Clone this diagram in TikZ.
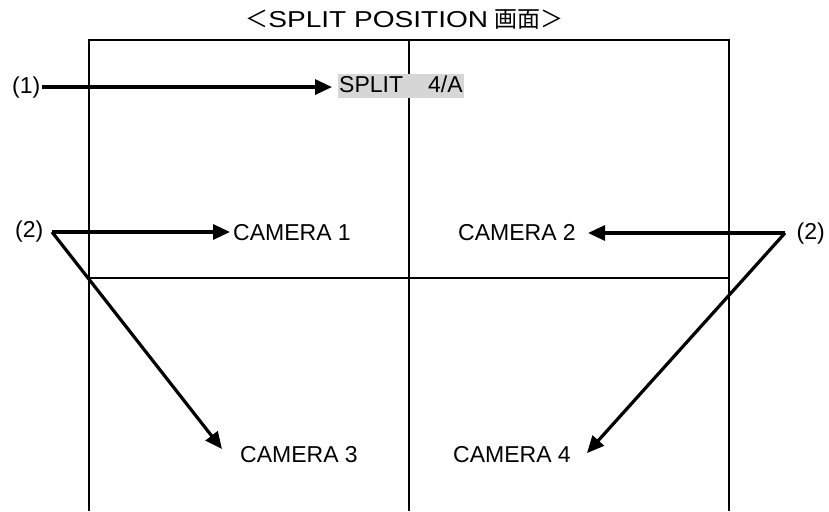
\documentclass[tikz,border=0pt]{standalone}
\usepackage{fontspec}
\usepackage{graphicx}
\setmainfont{Liberation Sans}
\newfontfamily\cjk{Noto Sans CJK JP}
\usetikzlibrary{arrows.meta,calc}
\tikzset{
  frameline/.style={line width=2pt},
  arr/.style={line width=3.2pt,-{Triangle[length=17pt,width=15pt]}},
  lbl/.style={inner sep=0pt,font=\fontsize{23}{27}\selectfont},
  splitbox/.style={lbl,fill=black!16,inner xsep=1pt,inner ysep=0pt,text height=18pt,text depth=6pt}
}
\begin{document}
\begin{tikzpicture}[x=1pt,y=-1pt]
\useasboundingbox (0,0) rectangle (829,511);
% frame
\draw[frameline] (89,511) -- (89,40) -- (729,40) -- (729,511);
\draw[frameline] (409,40) -- (409,511);
\draw[frameline] (89,278) -- (729,278);
% title
\node[lbl,anchor=base] (title) at (404.5,28) {{\cjk ＜}\scalebox{1.22}[1]{SPLIT POSITION} {\cjk 画面＞}};
% labels
\node[lbl,anchor=base west] (l1) at (12,93) {(1)};
\node[splitbox,anchor=base west] (split) at (338,92) {SPLIT\hspace{25pt}4/A};
\node[lbl,anchor=base west] (l2a) at (15,237) {(2)};
\node[lbl,anchor=base east] (l2b) at (825,239) {(2)};
\node[lbl,anchor=base west] (cam1) at (233,240) {CAMERA 1};
\node[lbl,anchor=base east] (cam2) at (576,240) {CAMERA 2};
\node[lbl,anchor=base west] (cam3) at (240,462) {CAMERA 3};
\node[lbl,anchor=base east] (cam4) at (571,462) {CAMERA 4};
% arrow origins
\coordinate (o1) at ($(l1.east)+(1,0)$);
\coordinate (o2a) at (52,232);
\coordinate (o2b) at (785,233);
% arrows
\draw[arr] (o1) -- ($(split.west |- o1)+(-6,0)$);
\draw[arr] (o2a) -- ($(cam1.west |- o2a)+(-3,0)$);
\draw[arr] (o2a) -- ($(cam3.west)+(-18,-5)$);
\draw[arr] (o2b) -- ($(cam2.east |- o2b)+(12,0)$);
\draw[arr] (o2b) -- ($(cam4.east)+(16,-1)$);
\end{tikzpicture}
\end{document}
